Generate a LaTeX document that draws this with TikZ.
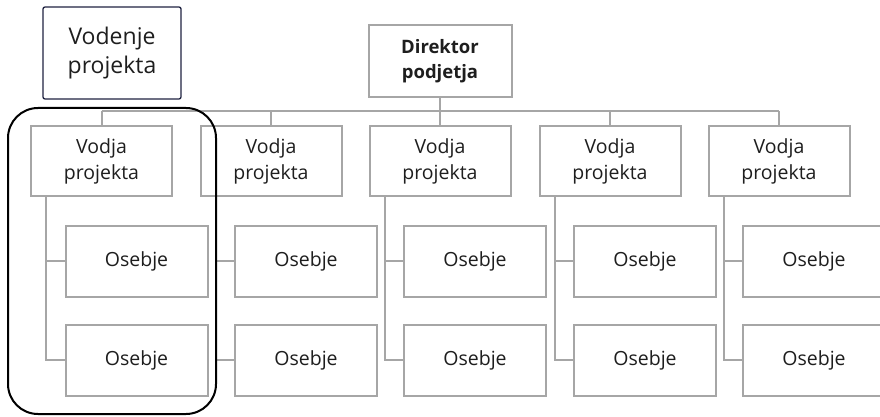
\documentclass[tikz,border=0pt]{standalone}
\usepackage{fontspec}
\setmainfont{Open Sans}
\usetikzlibrary{calc}
\definecolor{boxgray}{RGB}{166,166,166}
\definecolor{navy}{RGB}{30,34,64}
\definecolor{txt}{RGB}{30,30,30}
\begin{document}
\begin{tikzpicture}[x=1pt,y=-1pt,
  orgbox/.style={draw=boxgray, line width=2pt, fill=white, minimum width=141pt, minimum height=70pt, inner sep=0pt, align=center, text=txt, font=\fontsize{19.5}{26}\selectfont},
  link/.style={draw=boxgray, line width=2pt}]
\useasboundingbox (0,0) rectangle (880,417);
% title box
\node[draw=navy, line width=1.3pt, rounded corners=2pt, minimum width=138pt, minimum height=92pt, align=center, text=txt, font=\fontsize{23}{29}\selectfont] (vod) at (112,53) {Vodenje\\projekta};
% director
\node[orgbox, minimum width=143pt, minimum height=72pt, font=\bfseries\fontsize{18.5}{25}\selectfont] (dir) at (440,61) {Direktor\\podjetja};
\coordinate (bar) at (0,111);
\foreach \i/\x in {1/101.5,2/271,3/440,4/610,5/779}{
  \node[orgbox] (v\i) at (\x,161) {Vodja\\projekta};
  \node[orgbox, minimum width=142pt, minimum height=71pt] (oa\i) at (\x+35,261) {Osebje};
  \node[orgbox, minimum width=142pt, minimum height=71pt] (ob\i) at (\x+35,360) {Osebje};
  \coordinate (t\i) at ($(v\i.south west)+(16,0)$);
  \draw[link] (t\i) |- (ob\i.west);
  \draw[link] (t\i |- oa\i.west) -- (oa\i.west);
  \draw[link] (v\i.north) -- (v\i.north |- bar);
}
\draw[link] (v1.north |- bar) -- (v5.north |- bar);
\draw[link] (dir.south) -- (dir.south |- bar);
% highlight
\node[draw=black, line width=2pt, rounded corners=30pt, minimum width=208pt, minimum height=306pt, inner sep=0pt] (hl) at (112,261) {};
\end{tikzpicture}
\end{document}
